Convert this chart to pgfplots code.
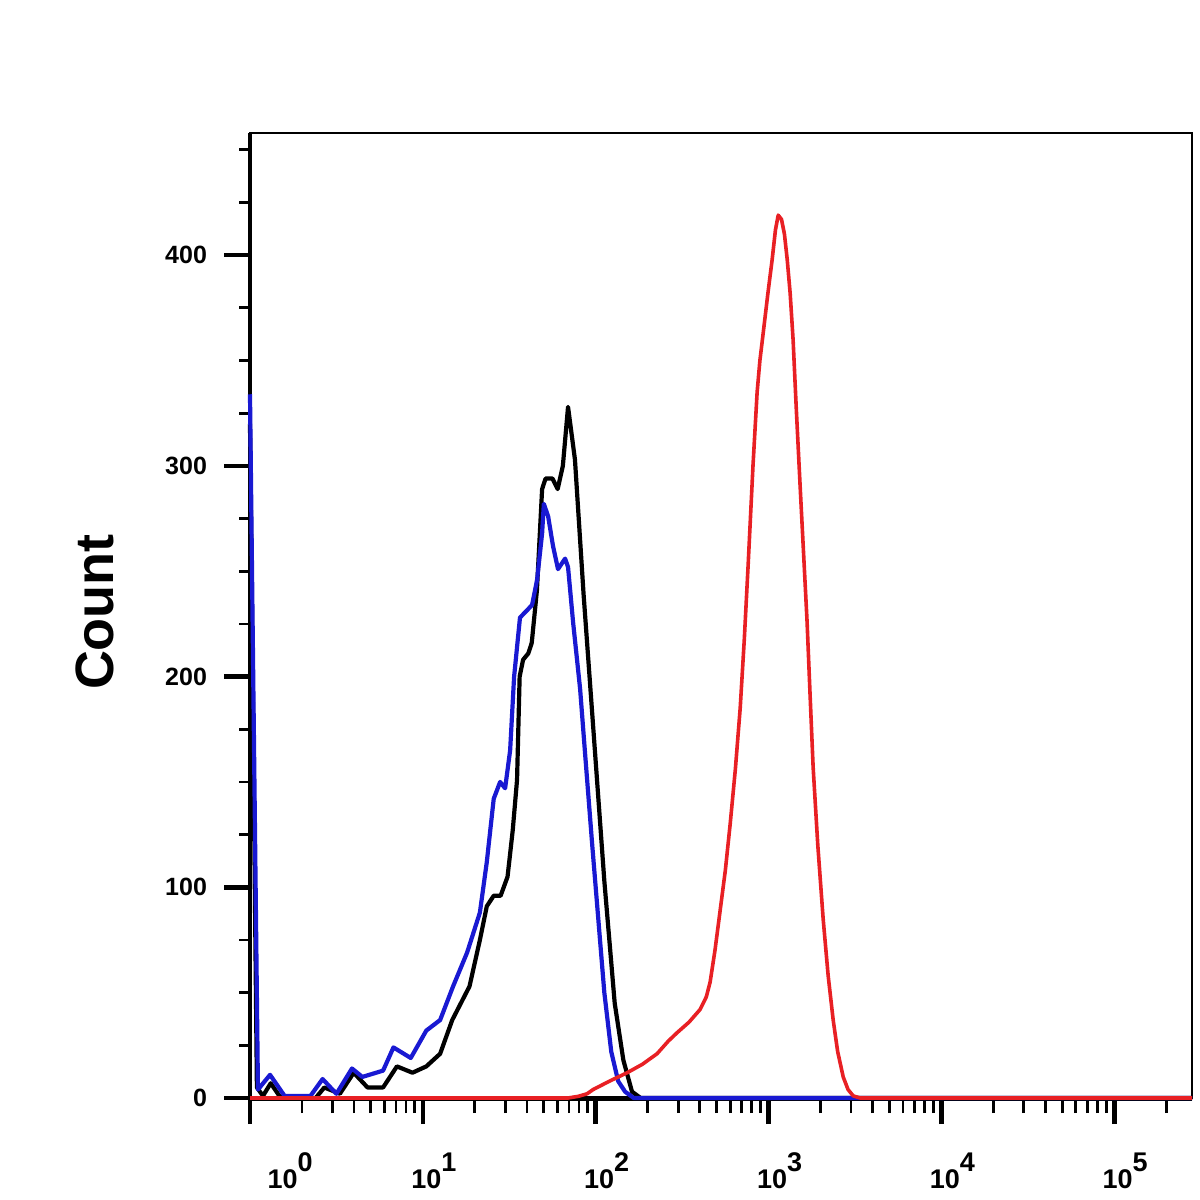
\documentclass[border=0pt]{standalone}
\usepackage{fontspec}
\setmainfont{Liberation Sans}
\usepackage{pgfplots}
\pgfplotsset{compat=1.18}
\usepackage{pgfplotstable}
\definecolor{fblue}{RGB}{25,25,210}
\definecolor{fred}{RGB}{232,32,36}
\newcommand\xl[1]{10\raisebox{0.62em}{#1}}

\pgfplotstableread{
lx count
0.000 320
0.040 5
0.075 1
0.120 7
0.170 1
0.250 0
0.380 0
0.430 5
0.520 2
0.600 12
0.680 5
0.770 5
0.850 15
0.940 12
1.020 15
1.100 21
1.170 37
1.270 53
1.330 75
1.370 91
1.410 96
1.450 96
1.490 105
1.520 127
1.545 151
1.560 200
1.580 208
1.610 211
1.630 216
1.660 241
1.680 273
1.690 289
1.710 294
1.750 294
1.780 289
1.810 300
1.840 328
1.880 303
1.930 239
1.990 171
2.050 103
2.110 45
2.160 18
2.210 3
2.260 0
5.450 0
}\blackdata

\pgfplotstableread{
lx count
0.000 334
0.046 4
0.116 11
0.200 1
0.350 1
0.420 9
0.500 2
0.590 14
0.650 10
0.730 12
0.770 13
0.830 24
0.930 19
1.020 32
1.100 37
1.175 53
1.256 69
1.330 88
1.370 112
1.410 142
1.447 150
1.476 147
1.505 165
1.528 200
1.562 228
1.609 232
1.632 234
1.661 246
1.690 268
1.700 282
1.725 276
1.753 262
1.782 251
1.823 256
1.840 252
1.869 226
1.910 194
1.940 162
1.980 120
2.010 90
2.050 50
2.090 22
2.130 8
2.170 3
2.220 0
5.450 0
}\bluedata

\pgfplotstableread{
lx count
0.000 0
1.840 0
1.900 0.8
1.950 2
1.985 4
2.080 8
2.182 12
2.270 16
2.355 21
2.420 27
2.471 31
2.540 36
2.604 42
2.640 48
2.662 55
2.690 70
2.720 89
2.750 108
2.778 130
2.808 156
2.836 185
2.860 218
2.882 253
2.910 300
2.934 335
2.950 350
2.969 363
2.995 381
3.021 398
3.040 412
3.056 419
3.075 417
3.092 410
3.108 398
3.125 382
3.142 360
3.160 328
3.183 290
3.203 258
3.223 226
3.240 192
3.258 157
3.285 120
3.316 85
3.345 58
3.374 37
3.400 22
3.432 10
3.460 4
3.490 1
3.530 0
5.450 0
}\reddata

\begin{document}
\begin{tikzpicture}
\path[use as bounding box] (0,0) rectangle (600pt,600pt);
\begin{axis}[
  at={(125pt,51pt)}, anchor=south west,
  scale only axis, width=471pt, height=482.5pt,
  xmin=0, xmax=5.45, ymin=0, ymax=458,
  clip=false,
  axis line style={line width=1pt, black},
  tick align=outside,
  tick pos=left,
  xtick={0,1,2,3,4,5},
  xticklabels={,\xl{1},\xl{2},\xl{3},\xl{4},\xl{5}},
  minor xtick={0.301,0.477,0.602,0.699,0.778,0.845,0.903,0.954,
               1.301,1.477,1.602,1.699,1.778,1.845,1.903,1.954,
               2.301,2.477,2.602,2.699,2.778,2.845,2.903,2.954,
               3.301,3.477,3.602,3.699,3.778,3.845,3.903,3.954,
               4.301,4.477,4.602,4.699,4.778,4.845,4.903,4.954,
               5.301},
  extra x ticks={0.168},
  extra x tick labels={\xl{0}},
  extra x tick style={major tick length=0pt, xticklabel style={yshift=-13pt}},
  ytick={0,100,200,300,400},
  extra y ticks={25,50,75,125,150,175,225,250,275,325,350,375,425,450},
  extra y tick labels={},
  extra y tick style={major tick length=5.5pt, major tick style={line width=1.4pt}},
  major tick length=13pt,
  minor tick length=7.5pt,
  major tick style={line width=2.3pt, black},
  minor tick style={line width=1.4pt, black},
  /pgf/number format/assume math mode=true,
  xticklabel style={font=\bfseries\fontsize{13.5}{15}\selectfont, xshift=5.5pt, yshift=-11pt},
  yticklabel style={font=\bfseries\fontsize{12.5}{14}\selectfont, xshift=-5pt},
  ylabel={\bfseries Count},
  ylabel style={font=\fontsize{27}{30}\selectfont, at={(axis description cs:-0.1645,0.5036)}, anchor=center},
]
\draw[line width=2pt, black] (rel axis cs:0,0) -- (rel axis cs:0,1);
\draw[line width=2.5pt, black] (rel axis cs:0,0) -- (rel axis cs:1,0);
\addplot[black, line width=2.1pt, line join=round] table[x=lx, y=count] {\blackdata};
\addplot[fblue, line width=2.1pt, line join=round] table[x=lx, y=count] {\bluedata};
\addplot[fred, line width=1.8pt, line join=round] table[x=lx, y=count] {\reddata};
\end{axis}
\end{tikzpicture}
\end{document}
